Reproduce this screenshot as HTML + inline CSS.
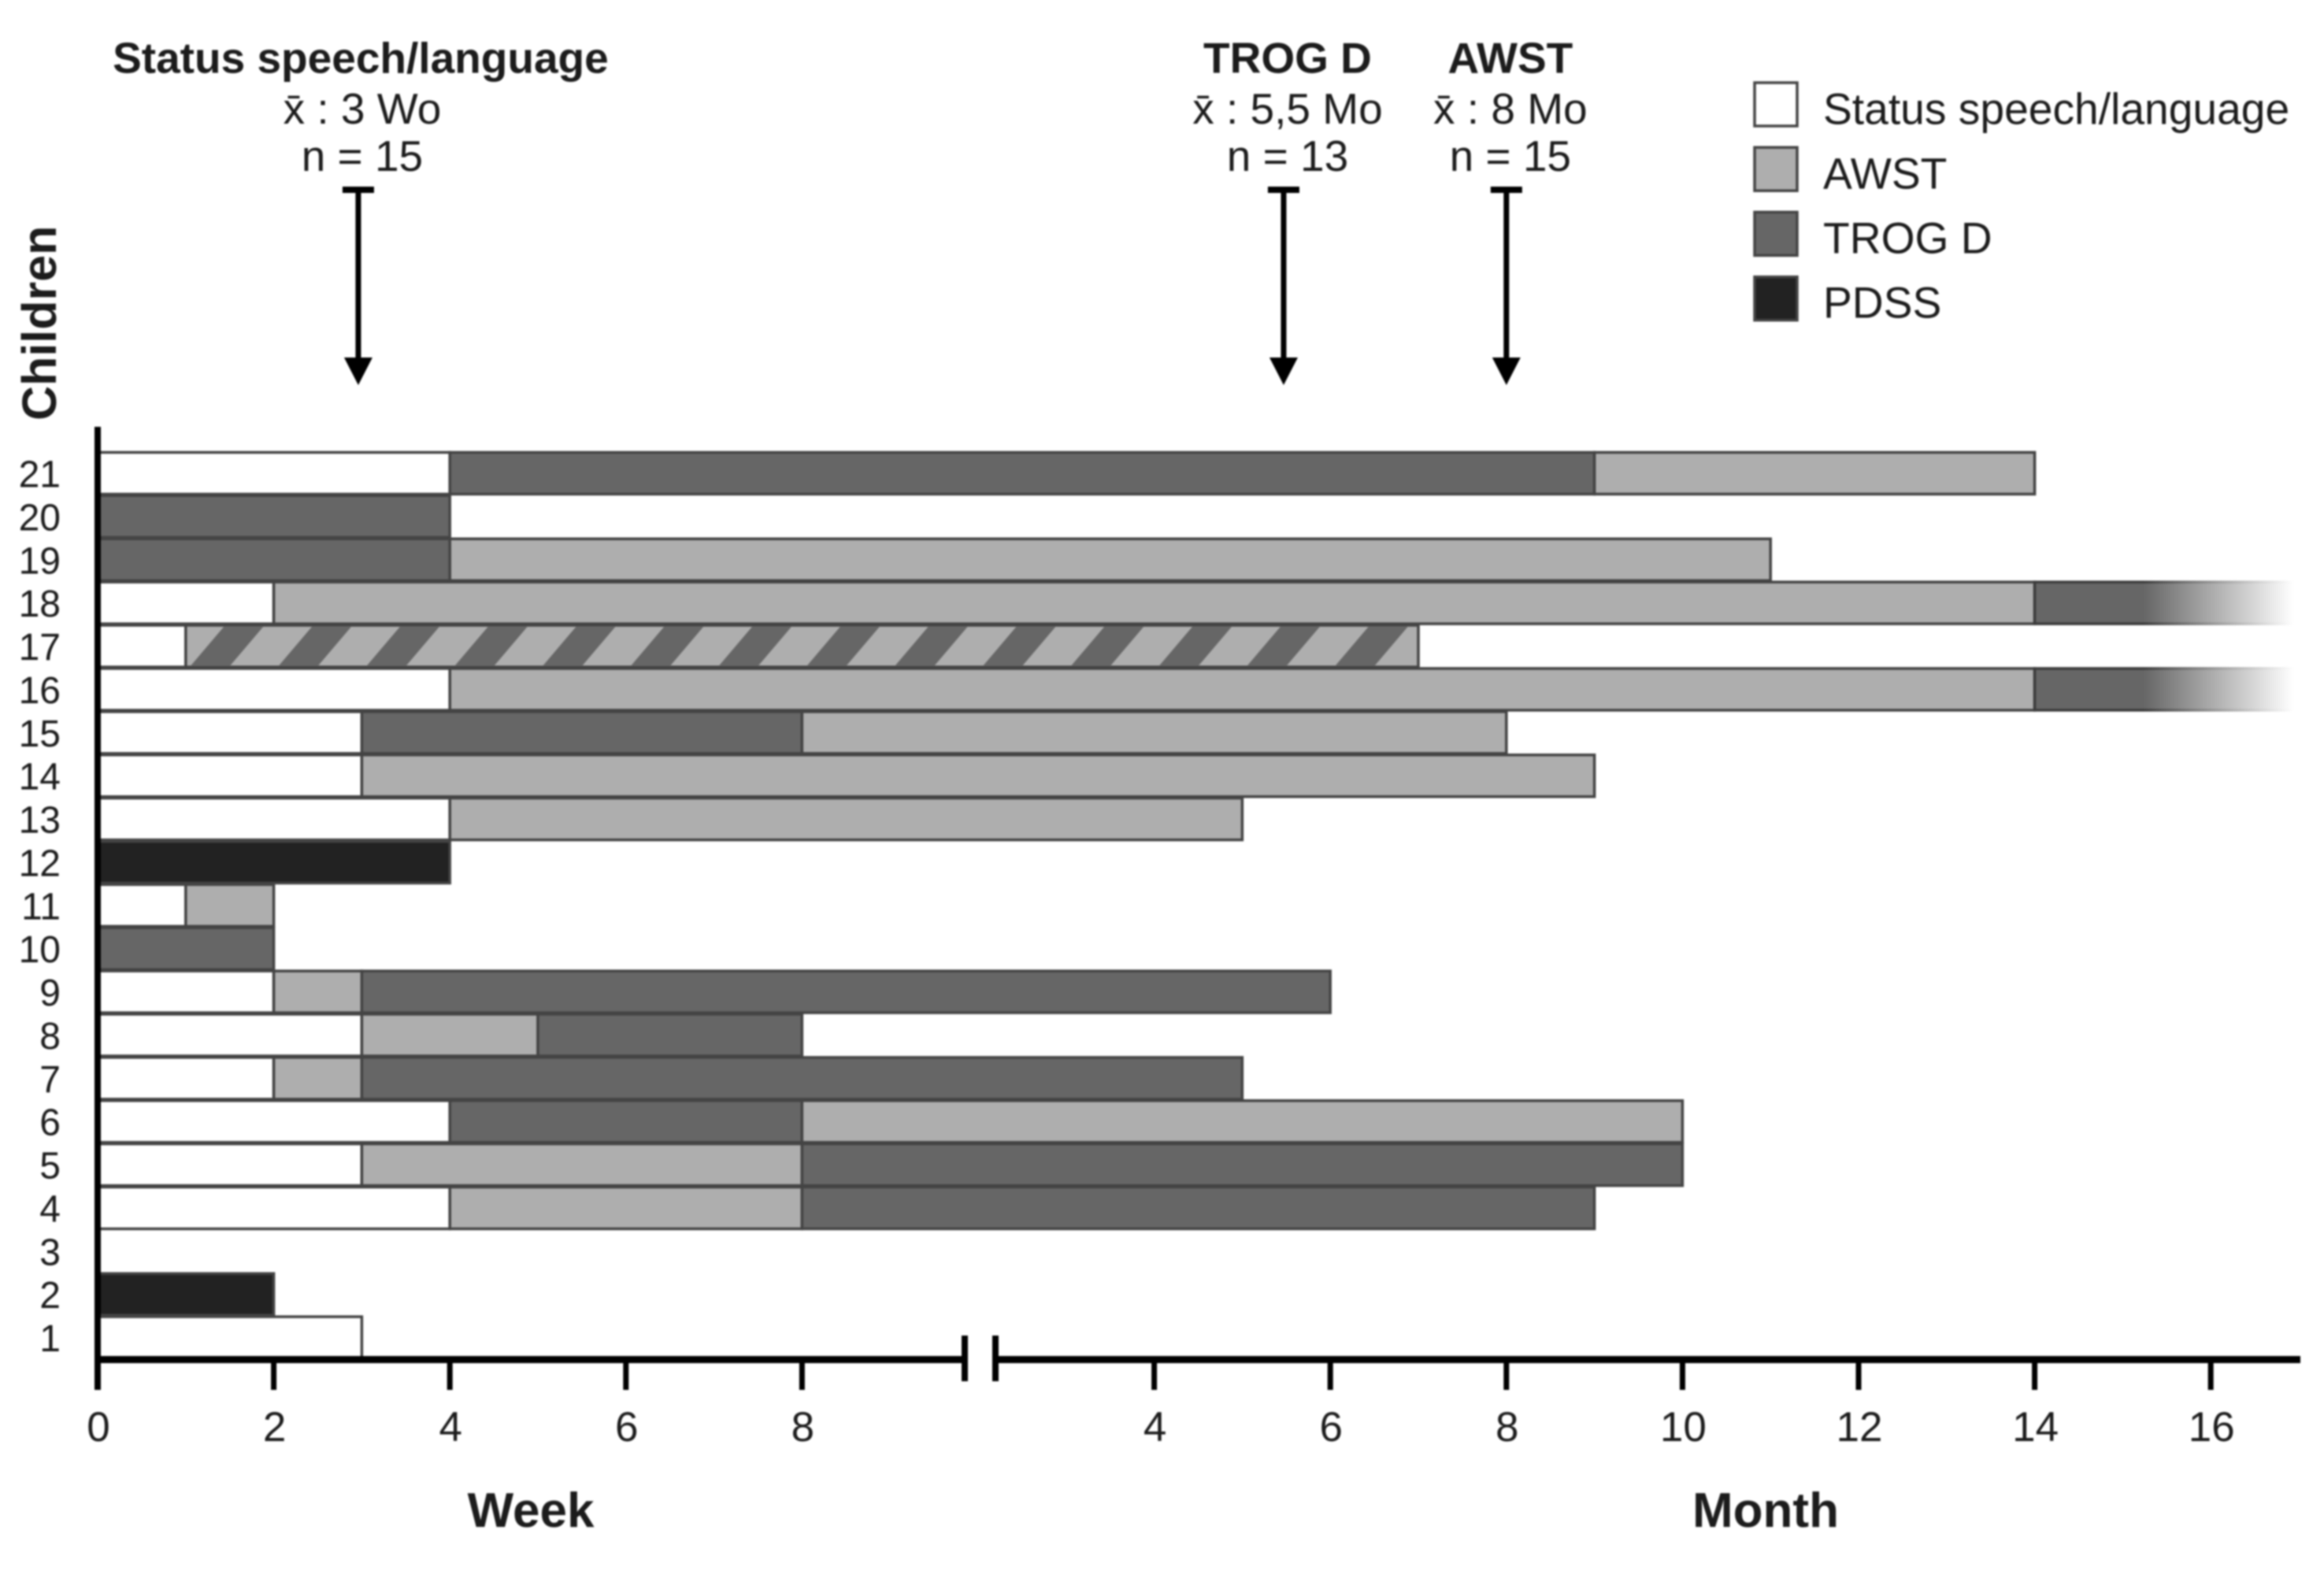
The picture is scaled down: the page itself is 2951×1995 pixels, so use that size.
<!DOCTYPE html>
<html lang="en">
<head>
<meta charset="utf-8">
<title>Children assessment timeline</title>
<style>
html,body{margin:0;padding:0;background:#fff;}
svg{display:block;font-family:"Liberation Sans",sans-serif;filter:blur(1px);}
text{fill:#1c1c1c;}
</style>
</head>
<body>
<svg id="chart" xmlns="http://www.w3.org/2000/svg" width="2951" height="1995" viewBox="0 0 2951 1995">
  <defs>
    <linearGradient id="fade-fill" x1="0" x2="1" y1="0" y2="0">
      <stop offset="0" stop-color="#666666"/>
      <stop offset="0.42" stop-color="#666666"/>
      <stop offset="1" stop-color="#ffffff"/>
    </linearGradient>
    <linearGradient id="fade-stroke" gradientUnits="objectBoundingBox" x1="0" x2="1" y1="0" y2="0">
      <stop offset="0" stop-color="#3c3c3c"/>
      <stop offset="0.42" stop-color="#3c3c3c"/>
      <stop offset="1" stop-color="#ffffff"/>
    </linearGradient>
  </defs>
  <g id="bars"></g>
  <g id="axes"></g>
  <g id="annotations"></g>
  <text transform="translate(71 534) rotate(-90)" font-size="61" font-weight="bold">Children</text>
  <text x="674" y="1939" text-anchor="middle" font-size="62" font-weight="bold">Week</text>
  <text x="2242" y="1939" text-anchor="middle" font-size="62" font-weight="bold">Month</text>
  <g id="legend"></g>
</svg>
<script>
// Timeline units: 0-8 are weeks; 8 + m is month m.
var children = [21,20,19,18,17,16,15,14,13,12,11,10,9,8,7,6,5,4,3,2,1];
var segmentKinds = [
  ['status','trog','awst'],
  ['trog'],
  ['trog','awst'],
  ['status','awst','trogFade'],
  ['status','hatched'],
  ['status','awst','trogFade'],
  ['status','trog','awst'],
  ['status','awst'],
  ['status','awst'],
  ['pdss'],
  ['status','awst'],
  ['trog'],
  ['status','awst','trog'],
  ['status','awst','trog'],
  ['status','awst','trog'],
  ['status','trog','awst'],
  ['status','awst','trog'],
  ['status','awst','trog'],
  [],
  ['pdss'],
  ['status']
];
var segmentEnds = [
  [4,17,22],
  [4],
  [4,19],
  [2,22,24.94],
  [1,15],
  [4,22,24.94],
  [3,8,16],
  [3,17],
  [4,13],
  [4],
  [1,2],
  [2],
  [2,3,14],
  [3,5,8],
  [2,3,13],
  [4,8,18],
  [3,8,18],
  [4,8,17],
  [],
  [2],
  [3]
];
var weekTicks = [0,2,4,6,8];
var monthTicks = [4,6,8,10,12,14,16];
var annotationMeans = [2.96,13.47,16];
var annotationTitles = ['Status speech/language','TROG D','AWST'];
var annotationMeanLabels = ['x\u0304 : 3 Wo','x\u0304 : 5,5 Mo','x\u0304 : 8 Mo'];
var annotationCounts = ['n = 15','n = 13','n = 15'];
var legendKinds = ['status','awst','trog','pdss'];
var legendLabels = ['Status speech/language','AWST','TROG D','PDSS'];

var NS = 'http://www.w3.org/2000/svg';
var X0 = 124, XUNIT = 111.8, Y21 = 574.5, ROWSTEP = 54.88, ROWH = 53;
var AXIS_Y = 1726.5;
var fills = {status:'#ffffff', awst:'#aeaeae', trog:'#666666', pdss:'#222222',
             trogFade:'url(#fade-fill)', hatched:'#aeaeae'};

function xScale(u){ return X0 + u * XUNIT; }
function yScale(c){ return Y21 + (21 - c) * ROWSTEP; }
function make(parent, tag, attrs, txt){
  var el = document.createElementNS(NS, tag);
  for (var k in attrs) el.setAttribute(k, attrs[k]);
  if (txt !== undefined) el.textContent = txt;
  parent.appendChild(el);
  return el;
}

var bars = document.getElementById('bars');
var axes = document.getElementById('axes');
var ann = document.getElementById('annotations');
var legend = document.getElementById('legend');

children.forEach(function(child, i){
  var start = 0;
  var y = yScale(child);
  segmentKinds[i].forEach(function(kind, j){
    var end = segmentEnds[i][j];
    var x1 = xScale(start), x2 = xScale(end);
    var rect = make(bars, 'rect', {x:x1, y:y, width:x2-x1, height:ROWH, fill:fills[kind],
      stroke: kind === 'trogFade' ? 'url(#fade-stroke)' : '#444444', 'stroke-width':3.5});
    
    
    if (kind === 'hatched') {
      var clip = make(bars, 'clipPath', {id:'hatch-clip-' + child});
      make(clip, 'rect', {x:x1+2, y:y+2, width:x2-x1-4, height:ROWH-4});
      var group = make(bars, 'g', {'clip-path':'url(#hatch-clip-' + child + ')'});
      
      
      for (var u = start; u < end; u++) {
        var b = xScale(u) + 5;
        var stripe = make(group, 'polygon', {
          points: b + ',' + (y+ROWH) + ' ' + (b+50) + ',' + (y+ROWH) + ' ' + (b+95) + ',' + y + ' ' + (b+45) + ',' + y,
          fill:'#666666'});
        
        
      }
    }
    start = end;
  });
  var label = make(axes, 'text', {x:77, y:y+44, 'text-anchor':'end', 'font-size':48}, String(child));
  
  
});

// axes
var yAxis = make(axes, 'line', {x1:X0, x2:X0, y1:542, y2:1765, stroke:'#000', 'stroke-width':8});


var weekAxis = make(axes, 'line', {x1:X0, x2:1225, y1:AXIS_Y, y2:AXIS_Y, stroke:'#000', 'stroke-width':9});


var monthAxis = make(axes, 'line', {x1:1264, x2:2921, y1:AXIS_Y, y2:AXIS_Y, stroke:'#000', 'stroke-width':9});


var breakA = make(axes, 'line', {x1:1225, x2:1225, y1:1696, y2:1754, stroke:'#000', 'stroke-width':8});


var breakB = make(axes, 'line', {x1:1264, x2:1264, y1:1696, y2:1754, stroke:'#000', 'stroke-width':8});



function drawTick(pos, value, prefix){
  var x = xScale(pos);
  var tick = make(axes, 'line', {x1:x, x2:x, y1:AXIS_Y, y2:1765, stroke:'#000', 'stroke-width':7});
  
  
  var lab = make(axes, 'text', {x:x+1, y:1830, 'text-anchor':'middle', 'font-size':53}, String(value));
  
  
}
weekTicks.forEach(function(w){ drawTick(w, w, 'week'); });
monthTicks.forEach(function(m){ drawTick(8 + m, m, 'month'); });

// annotations
annotationMeans.forEach(function(mean, i){
  var x = xScale(mean);
  var cx = x + 5;
  var t1 = make(ann, 'text', {x:(i === 0 ? cx - 2 : cx), y:92.5, 'text-anchor':'middle', 'font-size':55, 'font-weight':'bold'}, annotationTitles[i]);
  
  
  var t2 = make(ann, 'text', {x:cx, y:157, 'text-anchor':'middle', 'font-size':55}, annotationMeanLabels[i]);
  
  
  var t3 = make(ann, 'text', {x:cx, y:217, 'text-anchor':'middle', 'font-size':55}, annotationCounts[i]);
  
  
  var cap = make(ann, 'line', {x1:x-20, x2:x+20, y1:241, y2:241, stroke:'#000', 'stroke-width':8});
  
  
  var shaft = make(ann, 'line', {x1:x, x2:x, y1:241, y2:458, stroke:'#000', 'stroke-width':7});
  
  
  var head = make(ann, 'polygon', {points:(x-18)+',454 '+(x+18)+',454 '+x+',489', fill:'#000'});
  
  
});

// legend
legendKinds.forEach(function(kind, i){
  var y = 105 + i * 82.2;
  var sw = make(legend, 'rect', {x:2228, y:y, width:54, height:55, fill:fills[kind], stroke:'#444444', 'stroke-width':3.5});
  
  
  var lt = make(legend, 'text', {x:2315, y:157.5 + i * 82, 'font-size':55.2}, legendLabels[i]);
  
  
});
</script>
</body>
</html>
